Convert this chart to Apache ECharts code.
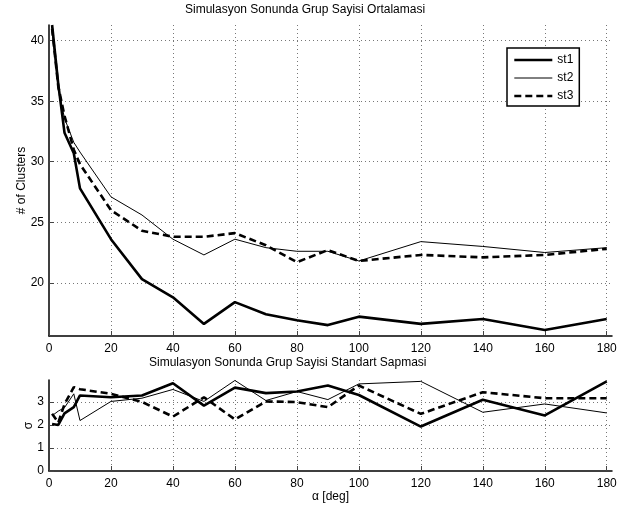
<!DOCTYPE html>
<html>
<head>
<meta charset="utf-8">
<script src="https://cdn.jsdelivr.net/npm/echarts@6/dist/echarts.min.js"></script>
<style>
  html, body { margin: 0; padding: 0; background: #fff; }
  #chart { width: 634px; height: 508px; }
</style>
</head>
<body>
<div id="chart"></div>
<script>
// alpha values (deg)
const alphas = [1, 3, 5, 8, 10, 20, 30, 40, 50, 60, 70, 80, 90, 100, 120, 140, 160, 180];
const seriesNames = ['st1', 'st2', 'st3'];

// mean number of clusters
const meanSt1 = [41.3, 36.4, 32.4, 30.7, 27.8, 23.6, 20.3, 18.8, 16.6, 18.4, 17.4, 16.9, 16.5, 17.2, 16.6, 17.0, 16.1, 17.0];
const meanSt2 = [40.8, 36.0, 33.6, 31.6, 30.8, 27.1, 25.6, 23.6, 22.3, 23.6, 22.9, 22.6, 22.6, 21.8, 23.4, 23.0, 22.5, 22.9];
const meanSt3 = [41.0, 36.2, 33.8, 31.0, 29.8, 26.0, 24.3, 23.8, 23.8, 24.1, 23.1, 21.7, 22.7, 21.8, 22.3, 22.1, 22.3, 22.8];

// standard deviation
const sdSt1 = [2.04, 2.0, 2.5, 2.77, 3.28, 3.2, 3.28, 3.81, 2.84, 3.62, 3.38, 3.45, 3.71, 3.3, 1.93, 3.09, 2.41, 3.89];
const sdSt2 = [2.4, 2.6, 2.75, 3.35, 2.19, 3.02, 3.16, 3.54, 3.02, 3.93, 3.06, 3.45, 3.1, 3.78, 3.89, 2.55, 2.91, 2.52];
const sdSt3 = [2.48, 2.1, 2.9, 3.64, 3.55, 3.35, 3.0, 2.36, 3.2, 2.24, 3.02, 2.99, 2.77, 3.71, 2.48, 3.42, 3.16, 3.16];

const xTicks = [0, 20, 40, 60, 80, 100, 120, 140, 160, 180];

const font = 'Liberation Sans, Arial, sans-serif';
const lineStyles = [
  { color: '#000', width: 2.6, type: 'solid' },
  { color: '#000', width: 1, type: 'solid' },
  { color: '#000', width: 2.6, type: [7, 4] }
];

const pairs = function (ys) {
  return alphas.map(function (x, i) { return [x, ys[i]]; });
};

const gridLine = {
  show: true,
  showMinLine: false,
  showMaxLine: false,
  lineStyle: { color: '#777', width: 1, type: [1, 3] }
};

const makeXAxis = function (idx, name) {
  return {
    type: 'value',
    gridIndex: idx,
    min: 0,
    max: 181.7,
    interval: 20,
    name: name,
    nameLocation: 'middle',
    nameGap: 20,
    nameMoveOverlap: false,
    nameTextStyle: { color: '#000', fontFamily: font, fontSize: 12 },
    axisLine: { show: true, onZero: false, lineStyle: { color: '#000', width: 1.5 } },
    axisTick: { show: true, inside: true, length: 5, lineStyle: { color: '#444' } },
    axisLabel: {
      color: '#000', fontFamily: font, fontSize: 12, margin: 7, showMaxLabel: false,
      formatter: function (v) { return xTicks.indexOf(v) >= 0 ? String(v) : ''; }
    },
    splitLine: gridLine
  };
};

const makeYAxis = function (idx, opts) {
  return Object.assign({
    type: 'value',
    gridIndex: idx,
    nameLocation: 'middle',
    nameMoveOverlap: false,
    nameTextStyle: { color: '#000', fontFamily: font, fontSize: 12 },
    axisLine: { show: true, onZero: false, lineStyle: { color: '#000', width: 1.5 } },
    axisTick: { show: true, inside: true, length: 5, lineStyle: { color: '#444' } },
    axisLabel: { color: '#000', fontFamily: font, fontSize: 12, margin: 5, showMinLabel: true, showMaxLabel: false },
    splitLine: gridLine
  }, opts);
};

const meanData = [meanSt1, meanSt2, meanSt3];
const sdData = [sdSt1, sdSt2, sdSt3];
const series = [];
[meanData, sdData].forEach(function (set, k) {
  seriesNames.forEach(function (name, i) {
    series.push({
      name: name,
      type: 'line',
      xAxisIndex: k,
      yAxisIndex: k,
      symbol: 'none',
      clip: true,
      itemStyle: { color: '#000' },
      lineStyle: lineStyles[i],
      data: pairs(set[i])
    });
  });
});

const myChart = echarts.init(document.getElementById('chart'));
const option = {
  animation: false,
  backgroundColor: '#fff',
  title: [
    {
      text: 'Simulasyon Sonunda Grup Sayisi Ortalamasi',
      left: 185,
      top: 4,
      padding: 0,
      textStyle: { color: '#000', fontFamily: font, fontSize: 12, fontWeight: 'normal' }
    },
    {
      text: 'Simulasyon Sonunda Grup Sayisi Standart Sapmasi',
      left: 149,
      top: 357,
      padding: 0,
      textStyle: { color: '#000', fontFamily: font, fontSize: 12, fontWeight: 'normal' }
    }
  ],
  legend: {
    data: seriesNames.map(function (name, i) {
      return { name: name, lineStyle: lineStyles[i] };
    }),
    orient: 'vertical',
    left: 507,
    top: 48,
    padding: [6, 6, 4, 6],
    itemWidth: 38,
    itemHeight: 12,
    itemGap: 6,
    itemStyle: { opacity: 0 },
    borderColor: '#000',
    borderWidth: 1.5,
    backgroundColor: '#fff',
    textStyle: { color: '#000', fontFamily: font, fontSize: 12 }
  },
  grid: [
    { left: 49, right: 22, top: 25, bottom: 172 },
    { left: 49, right: 22, top: 380, bottom: 37 }
  ],
  xAxis: [makeXAxis(0, ''), makeXAxis(1, 'α [deg]')],
  yAxis: [
    makeYAxis(0, { min: 15.6, max: 41.3, splitNumber: 5, name: '# of Clusters', nameGap: 21,
      axisLabel: { color: '#000', fontFamily: font, fontSize: 12, margin: 5, showMinLabel: false, showMaxLabel: false } }),
    makeYAxis(1, { min: 0, max: 3.95, interval: 1, name: 'σ', nameGap: 14 })
  ],
  series: series
};
myChart.setOption(option);
</script>
</body>
</html>
